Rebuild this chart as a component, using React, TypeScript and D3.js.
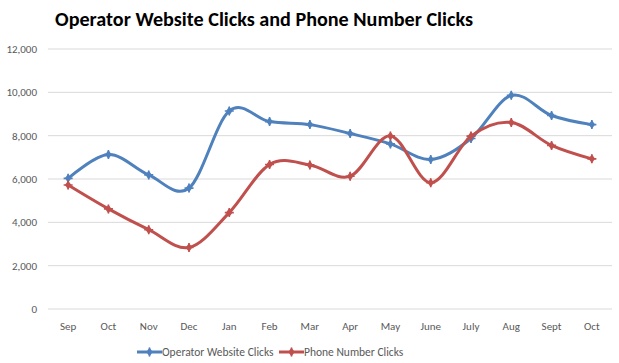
import React from 'react';
import * as d3 from 'd3';

// values
const months = ['Sep', 'Oct', 'Nov', 'Dec', 'Jan', 'Feb', 'Mar', 'Apr', 'May', 'June', 'July', 'Aug', 'Sept', 'Oct'];
const websiteClicks = [6030, 7130, 6190, 5580, 9140, 8650, 8510, 8100, 7620, 6900, 7870, 9860, 8930, 8510];
const phoneClicks = [5720, 4620, 3660, 2840, 4450, 6670, 6650, 6130, 7990, 5830, 7980, 8610, 7550, 6930];
const yTicks = [0, 2000, 4000, 6000, 8000, 10000, 12000];

const seriesList = [
  { name: 'Operator Website Clicks', values: websiteClicks, color: '#4F81BD' },
  { name: 'Phone Number Clicks', values: phoneClicks, color: '#C0504D' },
];

const W = 619;
const H = 363;
const margin = { left: 48, right: 7, top: 49, bottom: 54 };

const Marker = ({ x, y, color }: { x: number; y: number; color: string }) => (
  <g transform={`translate(${x},${y})`}>
    <path d="M0,-4.5L3.2,0L0,4.5L-3.2,0Z" fill={color} />
    <path d="M-4.5,0H4.5M0,-4.5V4.5" stroke={color} strokeWidth={1.6} />
  </g>
);

export default function App() {
  const x = d3.scaleBand<number>()
    .domain(d3.range(months.length))
    .range([margin.left, W - margin.right]);
  const y = d3.scaleLinear().domain([0, 12000]).range([H - margin.bottom, margin.top]);
  const cx = (i: number) => (x(i) ?? 0) + x.bandwidth() / 2;

  const line = d3.line<number>()
    .x((_, i) => cx(i))
    .y(d => y(d))
    .curve(d3.curveCardinal.tension(0));

  const font = 'Calibri, Carlito, "Open Sans", sans-serif';

  return (
    <svg width={W} height={H} style={{ position: 'absolute', left: 0, top: 0, background: '#fff' }} fontFamily={font}>
      <text x={264} y={26} textAnchor="middle" fontSize={19.5} fontWeight="bold" fill="#000"
        textLength={418} lengthAdjust="spacingAndGlyphs">
        Operator Website Clicks and Phone Number Clicks
      </text>

      {yTicks.map(t => (
        <g key={t}>
          <line x1={margin.left} x2={W - margin.right} y1={y(t)} y2={y(t)} stroke="#D9D9D9" strokeWidth={1} />
          <text x={37} y={y(t)} dy="0.35em" textAnchor="end" fontSize={11} fill="#595959">
            {d3.format(',')(t)}
          </text>
        </g>
      ))}

      {months.map((m, i) => (
        <text key={i} x={cx(i)} y={330} textAnchor="middle" fontSize={11} fill="#595959">{m}</text>
      ))}

      {seriesList.map(s => (
        <g key={s.name}>
          <path d={line(s.values) ?? ''} fill="none" stroke={s.color} strokeWidth={3} strokeLinejoin="round" />
          {s.values.map((v, i) => <Marker key={i} x={cx(i)} y={y(v)} color={s.color} />)}
        </g>
      ))}

      {seriesList.map((s, i) => {
        const lx = i === 0 ? 137 : 279;
        return (
          <g key={s.name}>
            <line x1={lx} x2={lx + 25} y1={352} y2={352} stroke={s.color} strokeWidth={3} />
            <Marker x={lx + 12.5} y={352} color={s.color} />
            <text x={lx + 25} y={352} dy="0.35em" fontSize={11.5} fill="#595959">{s.name}</text>
          </g>
        );
      })}
    </svg>
  );
}
